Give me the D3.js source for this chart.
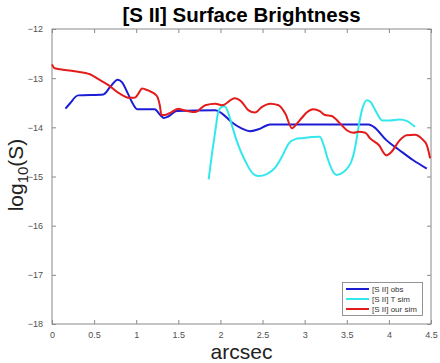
<!DOCTYPE html>
<html>
<head>
<meta charset="utf-8">
<script src="https://cdn.jsdelivr.net/npm/d3@7"></script>
<style>
  body { margin: 0; background: #fff; }
  text { font-family: "Liberation Sans", Arial, sans-serif; }
</style>
</head>
<body>
<div id="chart"></div>
<script>
// data (arcsec, log10 S)
var obsX = [0.16, 0.21, 0.31, 0.61, 0.69, 0.78, 0.83, 0.90, 0.96, 1.01, 1.22, 1.28, 1.33, 1.38, 1.48,
  1.94, 2.02, 2.13, 2.25, 2.35, 2.45, 2.59, 3.76, 3.82, 3.97, 4.13, 4.29, 4.45];
var obsY = [-13.62, -13.52, -13.35, -13.33, -13.18, -13.03, -13.08, -13.31, -13.52, -13.63, -13.63, -13.74, -13.81, -13.78, -13.67,
  -13.65, -13.72, -13.89, -14.02, -14.08, -14.04, -13.94, -13.94, -13.99, -14.26, -14.47, -14.67, -14.84];

var tsimX = [1.86, 1.90, 1.94, 1.97, 2.01, 2.05, 2.09, 2.13, 2.19, 2.29, 2.39, 2.45, 2.55, 2.65, 2.73, 2.81, 2.89, 2.97,
  3.18, 3.22, 3.28, 3.34, 3.38, 3.46, 3.56, 3.60, 3.64, 3.68, 3.74, 3.78, 3.86, 3.92, 4.01, 4.13, 4.21, 4.31];
var tsimY = [-15.06, -14.53, -14.06, -13.72, -13.59, -13.57, -13.69, -13.92, -14.26, -14.67, -14.95, -14.99, -14.95, -14.82, -14.60, -14.33, -14.24, -14.22,
  -14.19, -14.33, -14.67, -14.91, -14.97, -14.91, -14.67, -14.40, -13.99, -13.65, -13.45, -13.48, -13.72, -13.86, -13.86, -13.84, -13.87, -13.99];

var oursX = [0.00, 0.03, 0.27, 0.45, 0.55, 0.67, 0.80, 0.92, 0.98, 1.02, 1.07, 1.14, 1.24, 1.28, 1.30, 1.34, 1.42, 1.50,
  1.54, 1.70, 1.82, 1.94, 2.02, 2.17, 2.25, 2.33, 2.41, 2.49, 2.59, 2.69, 2.77, 2.85, 2.91, 2.97,
  3.03, 3.10, 3.18, 3.24, 3.32, 3.42, 3.50, 3.58, 3.64, 3.72, 3.78, 3.88, 3.97, 4.03, 4.13, 4.21, 4.31, 4.39, 4.45, 4.49];
var oursY = [-12.72, -12.80, -12.86, -12.92, -13.02, -13.14, -13.31, -13.40, -13.40, -13.33, -13.21, -13.25, -13.35, -13.55, -13.75, -13.75, -13.69, -13.62,
  -13.64, -13.69, -13.55, -13.52, -13.55, -13.41, -13.48, -13.65, -13.70, -13.59, -13.52, -13.55, -13.72, -14.02, -13.92, -13.80,
  -13.69, -13.63, -13.67, -13.75, -13.77, -13.92, -14.06, -14.11, -14.09, -14.11, -14.23, -14.36, -14.57, -14.50, -14.26, -14.16, -14.15, -14.23, -14.36, -14.63];

var seriesNames = ["[S II] obs", "[S II] T sim", "[S II] our sim"];
var seriesColors = ["#1c1cd4", "#33e8ec", "#e31b1b"];
var xTicks = [0, 0.5, 1, 1.5, 2, 2.5, 3, 3.5, 4, 4.5];
var yTicks = [-18, -17, -16, -15, -14, -13, -12];

var W = 440, H = 363;
var margin = {top: 29, right: 9, bottom: 39, left: 52};
var width = W - margin.left - margin.right;
var height = H - margin.top - margin.bottom;

var svg = d3.select("#chart").append("svg")
    .attr("width", W)
    .attr("height", H);

var g = svg.append("g")
    .attr("transform", "translate(" + margin.left + "," + margin.top + ")");

var x = d3.scaleLinear().domain([0, 4.5]).range([0, width]);
var y = d3.scaleLinear().domain([-18, -12]).range([height, 0]);

var axisCol = "#8a8a8a";
var labelCol = "#505050";

// axes, ticks pointing inward like matlab
function styleAxis(sel) {
  sel.select(".domain").remove();
  sel.selectAll(".tick line").attr("stroke", axisCol);
  sel.selectAll(".tick text").attr("fill", labelCol).style("font-size", "9px");
}

g.append("g")
    .attr("transform", "translate(0," + height + ")")
    .call(d3.axisBottom(x).tickValues(xTicks).tickSizeInner(-4).tickPadding(8).tickFormat(d3.format("")))
    .call(styleAxis);
g.append("g")
    .call(d3.axisTop(x).tickValues(xTicks).tickSizeInner(-4).tickFormat(""))
    .call(styleAxis);
g.append("g")
    .call(d3.axisLeft(y).tickValues(yTicks).tickSizeInner(-4).tickPadding(9).tickFormat(d3.format("")))
    .call(styleAxis);
g.append("g")
    .attr("transform", "translate(" + width + ",0)")
    .call(d3.axisRight(y).tickValues(yTicks).tickSizeInner(-4).tickFormat(""))
    .call(styleAxis);

g.append("rect")
    .attr("x", 0).attr("y", 0)
    .attr("width", width).attr("height", height)
    .attr("fill", "none")
    .attr("stroke", axisCol)
    .attr("stroke-width", 1);

// lines
var line = d3.line()
    .x(function (d) { return x(d[0]); })
    .y(function (d) { return y(d[1]); })
    .curve(d3.curveMonotoneX);

var series = [d3.zip(obsX, obsY), d3.zip(tsimX, tsimY), d3.zip(oursX, oursY)];
// draw order: obs, T sim, our sim
series.forEach(function (s, i) {
  g.append("path")
      .datum(s)
      .attr("fill", "none")
      .attr("stroke", seriesColors[i])
      .attr("stroke-width", 2)
      .attr("stroke-linejoin", "round")
      .attr("d", line);
});

// legend
var lg = svg.append("g").attr("transform", "translate(342,282)");
lg.append("rect")
    .attr("x", 0.5).attr("y", 0.5)
    .attr("width", 80).attr("height", 33)
    .attr("fill", "#fff")
    .attr("stroke", "#7a7a7a")
    .attr("stroke-width", 0.8);
seriesNames.forEach(function (name, i) {
  var yy = 7 + i * 10;
  lg.append("line")
      .attr("x1", 4).attr("x2", 27)
      .attr("y1", yy).attr("y2", yy)
      .attr("stroke", seriesColors[i])
      .attr("stroke-width", 2);
  lg.append("text")
      .attr("x", 30).attr("y", yy + 3)
      .attr("fill", "#333")
      .style("font-size", "8px")
      .text(name);
});

// title and labels
svg.append("text")
    .attr("x", margin.left + width / 2)
    .attr("y", 22)
    .attr("text-anchor", "middle")
    .style("font-size", "20.5px")
    .style("font-weight", "bold")
    .attr("fill", "#000")
    .text("[S II] Surface Brightness");

svg.append("text")
    .attr("x", margin.left + width / 2)
    .attr("y", 359)
    .attr("text-anchor", "middle")
    .style("font-size", "21px")
    .attr("fill", "#222")
    .text("arcsec");

var yl = svg.append("text")
    .attr("transform", "translate(23,175) rotate(-90)")
    .attr("text-anchor", "middle")
    .style("font-size", "21px")
    .attr("fill", "#222");
yl.append("tspan").text("log");
yl.append("tspan").attr("dy", 5).style("font-size", "15px").text("10");
yl.append("tspan").attr("dy", -5).text("(S)");
</script>
</body>
</html>
